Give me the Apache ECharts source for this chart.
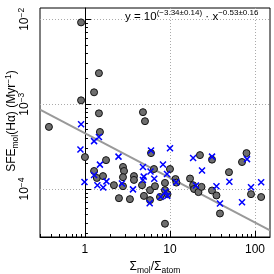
<!DOCTYPE html>
<html><head><meta charset="utf-8">
<script src="https://cdn.jsdelivr.net/npm/echarts@6/dist/echarts.min.js"></script>
<style>html,body{margin:0;padding:0;background:#fff}#c{width:274px;height:274px}</style>
</head><body><div id="c"></div>
<script>
const xRange = [0.296, 150];
const yRange = [2.72e-5, 0.0136];
const xMajorTicks = [1, 10, 100];
const xMinorTicks = [0.3,0.4,0.5,0.6,0.7,0.8,0.9,2,3,4,5,6,7,8,9,20,30,40,50,60,70,80,90];
const yMajorTicks = [1e-4, 1e-3, 1e-2];
const yMinorTicks = [3e-5,4e-5,5e-5,6e-5,7e-5,8e-5,9e-5,2e-4,3e-4,4e-4,5e-4,6e-4,7e-4,8e-4,9e-4,2e-3,3e-3,4e-3,5e-3,6e-3,7e-3,8e-3,9e-3];

const circleX = [0.90,1.46,1.28,0.90,1.46,0.377,1.50,1.00,1.77,1.28,1.38,1.63,2.19,2.51,2.80,2.88,2.80,2.80,3.38,3.77,3.77,4.81,5.08,4.69,4.94,5.82,5.82,5.98,6.48,6.66,7.63,8.73,8.73,9.35,10.0,8.73,11.6,11.9,17.2,18.7,19.2,21.6,23.5,22.5,31.2,31.2,35.2,38.7,49.4,70.3,79.4,89.7,118];
const circleY = [9.2e-3,2.32e-3,1.38e-3,1.11e-3,7.8e-4,5.4e-4,4.7e-4,2.38e-4,2.19e-4,1.63e-4,1.35e-4,1.42e-4,1.11e-4,7.8e-5,1.82e-4,1.63e-4,1.38e-4,1.08e-4,7.6e-5,1.42e-4,1.28e-4,8.05e-4,6.3e-4,1.11e-4,8.3e-5,7.4e-5,9.7e-5,2.65e-4,1.72e-4,1.08e-4,8.05e-5,1.18e-4,9.7e-5,8.7e-5,1.72e-4,3.9e-5,1.31e-4,1.19e-4,1.33e-4,1.11e-4,1.0e-4,9.2e-5,1.06e-4,2.51e-4,2.22e-4,9.6e-5,8.4e-5,5.15e-5,1.58e-4,2.08e-4,2.65e-4,8.7e-5,8.05e-5];
const crossX = [0.90,1.28,1.46,0.885,2.48,1.50,1.28,0.987,1.40,1.79,1.64,2.72,3.67,4.81,4.91,4.81,5.98,5.90,6.53,5.77,8.27,9.22,10.0,8.85,9.29,7.78,11.8,18.7,23.8,20.2,31.2,35.2,38.7,49.9,80.5,70.3,89.7,118];
const crossY = [5.8e-4,3.67e-4,4.1e-4,2.92e-4,2.41e-4,1.94e-4,1.46e-4,1.21e-4,1.11e-4,1.23e-4,1.04e-4,1.16e-4,9.9e-5,1.82e-4,1.40e-4,1.28e-4,2.84e-4,1.61e-4,1.32e-4,6.8e-5,1.95e-4,1.50e-4,3.03e-4,9.35e-5,8.3e-5,8.1e-5,1.20e-4,2.32e-4,1.65e-4,1.10e-4,2.41e-4,1.08e-4,6.75e-5,1.22e-4,2.25e-4,7.0e-5,1.05e-4,1.20e-4];
const fitX = [0.296, 150];
const fitY = [8.6e-4, 3.25e-5];

const L = Math.log10;
const pts = (xs, ys) => xs.map((x, i) => [L(x), L(ys[i])]);
const FONT = 'Liberation Sans';
function richSet(base, small) {
  return {
    base: {fontSize: base, fontFamily: FONT, color: '#000', lineHeight: base + 4},
    sup: {fontSize: small, fontFamily: FONT, color: '#000', verticalAlign: 'top', lineHeight: base + 4, padding: [0,0,5,0]},
    sub: {fontSize: small, fontFamily: FONT, color: '#000', verticalAlign: 'bottom', lineHeight: base + 4, padding: [4,0,0,0]}
  };
}
const labelRich = richSet(12, 8.5);
const annRich = richSet(11.5, 8);
const chart = echarts.init(document.getElementById('c'), null, {renderer: 'canvas'});
const grid = {left: 40, top: 8, right: 4, bottom: 37, show: true, borderColor: '#000', borderWidth: 1, containLabel: false, outerBoundsMode: 'none'};
const majorAxisCommon = {
  axisLine: {show: true, lineStyle: {color: '#000', width: 1}},
  splitLine: {show: true, lineStyle: {color: '#aaa', type: [1, 2], width: 1}},
  minorTick: {show: false}
};
chart.setOption({
  animation: false,
  grid: grid,
  xAxis: [
    Object.assign({}, majorAxisCommon, {
      type: 'value', position: 'bottom', min: L(xRange[0]), max: L(xRange[1]),
      axisTick: {show: true, inside: true, length: 6, customValues: xMajorTicks.map(L), lineStyle: {color: '#000'}},
      axisLabel: {show: true, margin: 7, customValues: xMajorTicks.map(L), fontFamily: FONT, fontSize: 12, color: '#000',
        formatter: v => String(Math.round(Math.pow(10, v)))},
      name: '{base|Σ}{sub|mol}{base|/Σ}{sub|atom}', nameLocation: 'middle', nameGap: 18,
      nameTextStyle: {rich: labelRich}
    }),
    {
      type: 'value', position: 'bottom', offset: 0, min: L(xRange[0]), max: L(xRange[1]),
      axisLine: {show: false}, splitLine: {show: false}, axisLabel: {show: false},
      axisTick: {show: true, inside: true, length: 3, customValues: xMinorTicks.map(L), lineStyle: {color: '#000'}}
    }
  ],
  yAxis: [
    Object.assign({}, majorAxisCommon, {
      type: 'value', position: 'left', min: L(yRange[0]), max: L(yRange[1]),
      axisTick: {show: true, inside: true, length: 6, customValues: yMajorTicks.map(L), lineStyle: {color: '#000'}},
      axisLabel: {show: true, margin: 7, rotate: 90, customValues: yMajorTicks.map(L),
        formatter: v => '{base|10}{sup|−' + Math.abs(Math.round(v)) + '}', rich: labelRich}
    }),
    {
      type: 'value', position: 'left', offset: 0, min: L(yRange[0]), max: L(yRange[1]),
      axisLine: {show: false}, splitLine: {show: false}, axisLabel: {show: false},
      axisTick: {show: true, inside: true, length: 3, customValues: yMinorTicks.map(L), lineStyle: {color: '#000'}}
    }
  ],
  series: [
    {type: 'line', data: pts(fitX, fitY), symbol: 'none', lineStyle: {color: '#999', width: 2}, z: 2, silent: true},
    {type: 'scatter', data: pts(circleX, circleY), symbol: 'circle', symbolSize: 7,
      itemStyle: {color: '#6e6e6e', borderColor: '#111', borderWidth: 1, opacity: 1}, z: 3},
    {type: 'scatter', data: pts(crossX, crossY), symbol: 'path://M0,0L10,10M10,0L0,10', symbolSize: 6,
      itemStyle: {color: 'none', borderColor: '#0000ff', borderWidth: 1.5, opacity: 1}, z: 4}
  ],
  graphic: [
    {type: 'text', left: 125, top: 9, z: 10,
      style: {text: '{base|y = 10}{sup|(−3.34±0.14)}{base| · x}{sup|−0.53±0.16}', rich: annRich}},
    {type: 'text', x: 12, y: 121, rotation: Math.PI / 2, z: 10,
      style: {text: '{base|SFE}{sub|mol}{base|(Hα) (Myr}{sup|−1}{base|)}', rich: labelRich, align: 'center', verticalAlign: 'middle'}}
  ]
});
</script></body></html>
